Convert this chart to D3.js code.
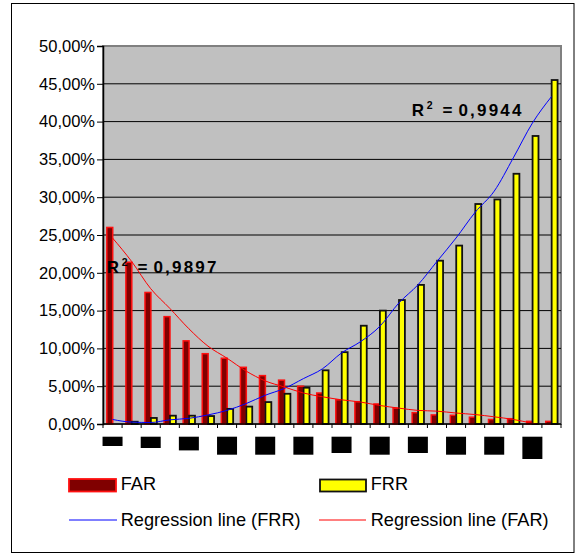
<!DOCTYPE html>
<html>
<head>
<meta charset="utf-8">
<script src="https://cdn.jsdelivr.net/npm/d3@7"></script>
<style>
  html, body { margin: 0; padding: 0; background: #fff; }
  svg { display: block; font-family: "Liberation Sans", Arial, sans-serif; }
</style>
</head>
<body>
<svg id="chart" width="584" height="556"></svg>
<script>
// ---------------- data ----------------
const categories = [1, 2, 3, 4, 5, 6, 7, 8, 9, 10, 11, 12, 13, 14, 15, 16, 17, 18, 19, 20, 21, 22, 23, 24];
const farValues = [26.0, 21.4, 17.4, 14.2, 11.0, 9.3, 8.7, 7.5, 6.4, 5.8, 5.0, 4.1, 3.2, 2.95, 2.65, 2.1, 1.5, 1.2, 1.15, 0.9, 0.6, 0.7, 0.35, 0.35];
const frrValues = [0.0, 0.3, 0.8, 1.1, 1.1, 1.05, 2.0, 2.3, 2.9, 4.0, 4.8, 7.1, 9.5, 13.0, 15.0, 16.4, 18.4, 21.6, 23.6, 29.1, 29.7, 33.1, 38.1, 45.5];
const farTrend = [24.6, 21.5, 17.9, 15.3, 12.6, 10.3, 8.7, 7.0, 5.7, 4.9, 4.1, 3.6, 3.2, 2.9, 2.45, 2.1, 1.8, 1.7, 1.45, 1.25, 0.95, 0.6, 0.1, -0.4];
const frrTrend = [0.6, 0.25, 0.2, 0.55, 0.75, 1.2, 1.8, 2.7, 3.8, 4.7, 6.0, 7.3, 9.4, 10.9, 12.9, 16.0, 18.4, 21.5, 24.6, 28.0, 30.8, 35.2, 39.8, 43.3];
const yTicks = [0, 5, 10, 15, 20, 25, 30, 35, 40, 45, 50];
const seriesNames = ["FAR", "FRR"];
const r2FAR = "0,9897";
const r2FRR = "0,9944";
const legendLabels = ["FAR", "FRR", "Regression line (FRR)", "Regression line (FAR)"];
// x-axis labels in the source are redacted (black boxes); shown on every other category
const redactedLabelCats = [1, 3, 5, 7, 9, 11, 13, 15, 17, 19, 21, 23];
const redactedBoxHeights = [9.3, 11.3, 13.7, 18, 18, 18, 16.3, 18, 16.3, 18, 18, 22.3];

// ---------------- layout ----------------
const svg = d3.select("#chart");
const plot = { left: 103, right: 561, top: 46, bottom: 424 };

svg.append("rect").attr("x", 11.5).attr("y", 3.5).attr("width", 562.5).attr("height", 549)
  .attr("fill", "#fff").attr("stroke", "#000").attr("stroke-width", 1);

const x = d3.scaleBand().domain(categories).range([plot.left, plot.right]).paddingInner(0).paddingOuter(0);
const bw = x.bandwidth();
const xs = d3.scaleBand().domain(seriesNames).range([bw * 0.2, bw * 0.82]);
const y = d3.scaleLinear().domain([0, 50]).range([plot.bottom, plot.top]);

// plot area
svg.append("rect").attr("x", plot.left).attr("y", plot.top)
  .attr("width", plot.right - plot.left).attr("height", plot.bottom - plot.top)
  .attr("fill", "#c0c0c0").attr("stroke", "#808080").attr("stroke-width", 2);

// gridlines
svg.append("g").selectAll("line").data(yTicks.filter(d => d > 0 && d < 50)).join("line")
  .attr("x1", plot.left).attr("x2", plot.right)
  .attr("y1", d => y(d)).attr("y2", d => y(d))
  .attr("stroke", "#000").attr("stroke-width", 1);

// y axis
const yAxis = d3.axisLeft(y).tickValues(yTicks).tickSize(6).tickPadding(2)
  .tickFormat(d => d3.format(".2f")(d).replace(".", ",") + "%");
const gy = svg.append("g").attr("transform", `translate(${plot.left},0)`).call(yAxis);
gy.select(".domain").attr("stroke", "#000").attr("stroke-width", 1.5);
gy.selectAll(".tick line").attr("stroke", "#000");
gy.selectAll(".tick text").attr("font-size", 16.5).attr("fill", "#000")
  .attr("font-family", "Liberation Sans, Arial, sans-serif");

// bars
const clipId = "plotclip";
svg.append("clipPath").attr("id", clipId).append("rect")
  .attr("x", plot.left).attr("y", plot.top).attr("width", plot.right - plot.left).attr("height", plot.bottom - plot.top);

const barData = categories.map((c, i) => ({ c, FAR: farValues[i], FRR: frrValues[i] }));
const gBars = svg.append("g");
gBars.selectAll("rect.far").data(barData).join("rect").attr("class", "far")
  .attr("x", d => x(d.c) + xs("FAR")).attr("width", xs.bandwidth())
  .attr("y", d => y(d.FAR)).attr("height", d => y(0) - y(d.FAR))
  .attr("fill", "#800000").attr("stroke", "#ff1010").attr("stroke-width", 1.5);
gBars.selectAll("rect.frr").data(barData.filter(d => d.FRR > 0)).join("rect").attr("class", "frr")
  .attr("x", d => x(d.c) + xs("FRR")).attr("width", xs.bandwidth())
  .attr("y", d => y(d.FRR)).attr("height", d => y(0) - y(d.FRR))
  .attr("fill", "#ffff00").attr("stroke", "#111").attr("stroke-width", 1.8);

// trend lines
const line = d3.line().x((d, i) => x(categories[i]) + bw / 2).y(d => y(d)).curve(d3.curveMonotoneX);
const gLines = svg.append("g").attr("clip-path", `url(#${clipId})`);
gLines.append("path").attr("d", line(frrTrend)).attr("fill", "none").attr("stroke", "#0000ff").attr("stroke-width", 1);
gLines.append("path").attr("d", line(farTrend)).attr("fill", "none").attr("stroke", "#ff0000").attr("stroke-width", 1);

// x axis line + ticks
svg.append("line").attr("x1", plot.left).attr("x2", plot.right).attr("y1", plot.bottom).attr("y2", plot.bottom)
  .attr("stroke", "#000").attr("stroke-width", 1.5);
const tickXs = categories.map(c => x(c)).concat([plot.right]);
svg.append("g").selectAll("line").data(tickXs).join("line")
  .attr("x1", d => d).attr("x2", d => d).attr("y1", plot.bottom).attr("y2", plot.bottom + 4)
  .attr("stroke", "#000").attr("stroke-width", 1);

// redacted x labels
svg.append("g").selectAll("rect").data(redactedLabelCats).join("rect")
  .attr("x", d => x(d) + bw / 2 - 10).attr("y", 436.7).attr("width", 20)
  .attr("height", (d, i) => redactedBoxHeights[i]).attr("fill", "#000");

// R² labels
function r2Label(xPos, yPos, val) {
  const t = svg.append("text").attr("x", xPos).attr("y", yPos)
    .attr("font-size", 17).attr("font-weight", "bold").attr("fill", "#000");
  t.append("tspan").text("R");
  t.append("tspan").text("2").attr("font-size", 10.5).attr("dx", 2.7).attr("dy", -7);
  t.append("tspan").text("=").attr("dx", 10).attr("dy", 7);
  t.append("tspan").text(val).attr("dx", 6).attr("letter-spacing", 2.2);
}
r2Label(106.7, 273, r2FAR);
r2Label(411.7, 116, r2FRR);

// legend
const lg = svg.append("g").attr("font-size", 18.2).attr("fill", "#000");
lg.append("rect").attr("x", 69).attr("y", 479).attr("width", 47).attr("height", 12.5)
  .attr("fill", "#800000").attr("stroke", "#ff1010").attr("stroke-width", 1.8);
lg.append("text").attr("x", 120.7).attr("y", 490).text(legendLabels[0]);
lg.append("rect").attr("x", 320).attr("y", 479.5).attr("width", 46).attr("height", 12)
  .attr("fill", "#ffff00").attr("stroke", "#111").attr("stroke-width", 1.8);
lg.append("text").attr("x", 370.7).attr("y", 490).text(legendLabels[1]);
lg.append("line").attr("x1", 69).attr("x2", 117).attr("y1", 520).attr("y2", 520)
  .attr("stroke", "#0000ff").attr("stroke-width", 1);
lg.append("text").attr("x", 120.7).attr("y", 526).text(legendLabels[2]);
lg.append("line").attr("x1", 319).attr("x2", 366).attr("y1", 520).attr("y2", 520)
  .attr("stroke", "#ff0000").attr("stroke-width", 1);
lg.append("text").attr("x", 370.7).attr("y", 526).text(legendLabels[3]);
</script>
</body>
</html>
